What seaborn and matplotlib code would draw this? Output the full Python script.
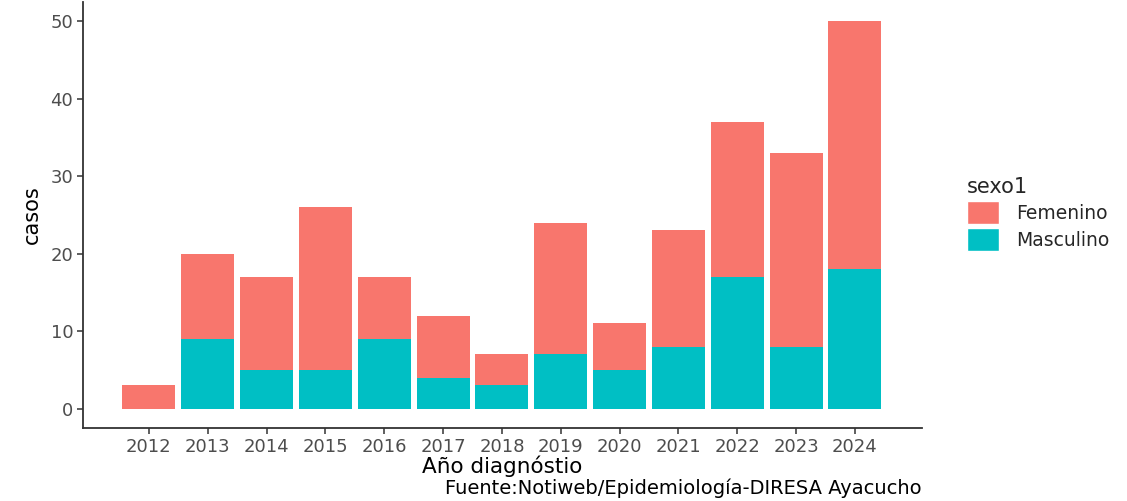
import matplotlib
matplotlib.use("Agg")
import matplotlib.pyplot as plt
import seaborn as sns
import pandas as pd
from matplotlib.patches import Patch

years = ["2012", "2013", "2014", "2015", "2016", "2017", "2018", "2019", "2020", "2021", "2022", "2023", "2024"]
masculino = [0, 9, 5, 5, 9, 4, 3, 7, 5, 8, 17, 8, 18]
femenino = [3, 11, 12, 21, 8, 8, 4, 17, 6, 15, 20, 25, 32]

col_f = "#F8766D"
col_m = "#00BFC4"

df = pd.DataFrame({"year": years, "Masculino": masculino, "Femenino": femenino})
df["total"] = df["Masculino"] + df["Femenino"]

sns.set_style("white")
plt.rcParams["font.family"] = ["DejaVu Sans"]

fig = plt.figure(figsize=(11.27, 5.01), dpi=100)
ax = fig.add_axes([83 / 1127, 73 / 501, (922 - 83) / 1127, (428 - 2) / 501])

sns.barplot(data=df, x="year", y="total", color=col_f, width=0.9, saturation=1, ax=ax, linewidth=0)
sns.barplot(data=df, x="year", y="Masculino", color=col_m, width=0.9, saturation=1, ax=ax, linewidth=0)

ax.set_xlim(-1.12, 13.14)
ax.set_ylim(-2.5, 52.5)
ax.set_yticks([0, 10, 20, 30, 40, 50])
for s in ["top", "right"]:
    ax.spines[s].set_visible(False)
for s in ["left", "bottom"]:
    ax.spines[s].set_color("#333333")
    ax.spines[s].set_linewidth(1.3)
ax.tick_params(axis="both", length=4, width=1.1, color="#333333", labelsize=13,
               labelcolor="#4D4D4D", pad=3, bottom=True, left=True)
ax.set_xlabel("Año diagnóstio", fontsize=15.5, color="black", labelpad=0)
ax.set_ylabel("casos", fontsize=15, color="black", labelpad=6)

handles = [Patch(facecolor=col_f, label="Femenino"), Patch(facecolor=col_m, label="Masculino")]
fig.legend(handles=handles, title="sexo1", loc="upper left", bbox_to_anchor=(950 / 1127, 1 - 160 / 501),
           frameon=False, fontsize=13.5, title_fontsize=15, handlelength=1.7, handleheight=1.55,
           handletextpad=0.9, labelspacing=0.2, alignment="left")

fig.text(922 / 1127, 1 - 488 / 501, "Fuente:Notiweb/Epidemiología-DIRESA Ayacucho", ha="right", va="center",
         fontsize=14, color="black")

fig.savefig("out.png", dpi=100)
